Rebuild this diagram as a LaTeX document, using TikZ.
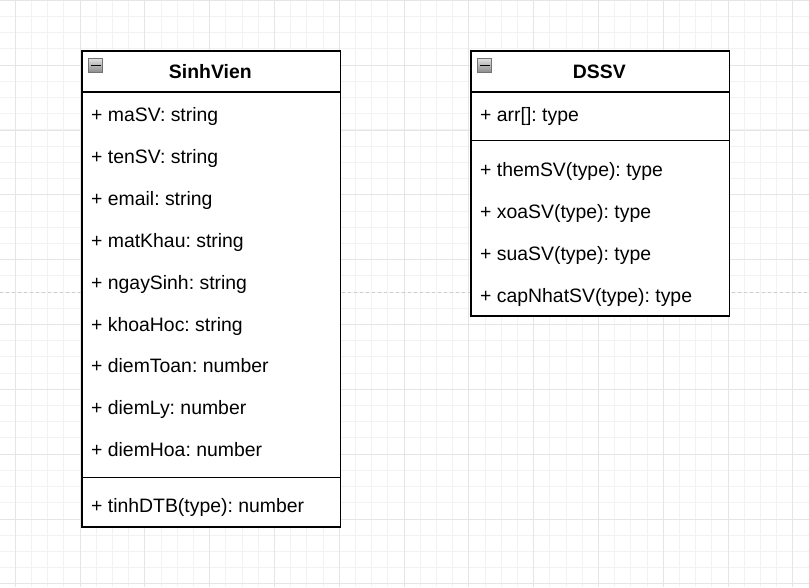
\documentclass[tikz,border=0pt]{standalone}
\usepackage{fontspec}
\setmainfont{Liberation Sans}
\frenchspacing
\begin{document}
\begin{tikzpicture}[x=1pt,y=-1pt,
  minorgrid/.style={draw=black!5,line width=0.8pt},
  majorgrid/.style={draw=black!10,line width=0.8pt},
  pagebreak/.style={draw=black!20,line width=1.1pt,dash pattern=on 3pt off 3pt},
  classbox/.style={draw=black,fill=white,line width=1.6pt,inner sep=0pt,anchor=north west},
  sepline/.style={draw=black,line width=1.6pt},
  member/.style={font=\fontsize{19.4}{22}\selectfont,anchor=base west,inner sep=0pt},
  title/.style={font=\fontsize{19.4}{22}\selectfont\bfseries,anchor=base,inner sep=0pt},
  icon/.style={draw=black!55,line width=0.8pt,top color=black!12,bottom color=black!45,minimum width=14pt,minimum height=13.5pt,inner sep=0pt,anchor=north west},
  minus/.style={draw=black,line width=1.5pt}]
\useasboundingbox (0,0) rectangle (809,587);
\fill[white] (0,0) rectangle (809,587);
% grid
\foreach \i in {0,...,49} {\draw[minorgrid] ({15.2+16.2*\i},0) -- ({15.2+16.2*\i},587);}
\foreach \j in {0,...,36} {\draw[minorgrid] (0,{0.2+16.21*\j}) -- (809,{0.2+16.21*\j});}
\foreach \i in {0,...,12} {\draw[majorgrid] ({15.2+64.8*\i},0) -- ({15.2+64.8*\i},587);}
\foreach \j in {0,...,9} {\draw[majorgrid] (0,{0.2+64.85*\j}) -- (809,{0.2+64.85*\j});}
\draw[pagebreak] (0,292.7) -- (809,292.7);

% SinhVien class
\node[classbox,minimum width=258.5pt,minimum height=476pt] (sv) at (81,50) {};
\draw[sepline] (81,92) -- (339.5,92);
\draw[sepline] (81,477.5) -- (339.5,477.5);
\node[icon] (svicon) at (88.3,58.2) {};
\draw[minus] ([xshift=2.5pt]svicon.west) -- ([xshift=-2.5pt]svicon.east);
\node[title] (svtitle) at (210.3,78.5) {SinhVien};
\node[member] (a1) at (91,121.5) {+ maSV: string};
\node[member] (a2) at (91,163.4) {+ tenSV: string};
\node[member] (a3) at (91,205.3) {+ email: string};
\node[member] (a4) at (91,247.2) {+ matKhau: string};
\node[member] (a5) at (91,289.1) {+ ngaySinh: string};
\node[member] (a6) at (91,331.0) {+ khoaHoc: string};
\node[member] (a7) at (91,372.9) {+ diemToan: number};
\node[member] (a8) at (91,414.8) {+ diemLy: number};
\node[member] (a9) at (91,456.7) {+ diemHoa: number};
\node[member] (m1) at (91,512.7) {+ tinhDTB(type): number};

% DSSV class
\node[classbox,minimum width=258.5pt,minimum height=265pt] (ds) at (470,50) {};
\draw[sepline] (470,92) -- (728.5,92);
\draw[sepline] (470,140.5) -- (728.5,140.5);
\node[icon] (dsicon) at (477.3,58.2) {};
\draw[minus] ([xshift=2.5pt]dsicon.west) -- ([xshift=-2.5pt]dsicon.east);
\node[title] (dstitle) at (599.3,78.5) {DSSV};
\node[member] (b1) at (480,121.5) {+ arr[]: type};
\node[member] (c1) at (480,176.5) {+ themSV(type): type};
\node[member] (c2) at (480,218.5) {+ xoaSV(type): type};
\node[member] (c3) at (480,260.5) {+ suaSV(type): type};
\node[member] (c4) at (480,302.5) {+ capNhatSV(type): type};
\end{tikzpicture}
\end{document}
